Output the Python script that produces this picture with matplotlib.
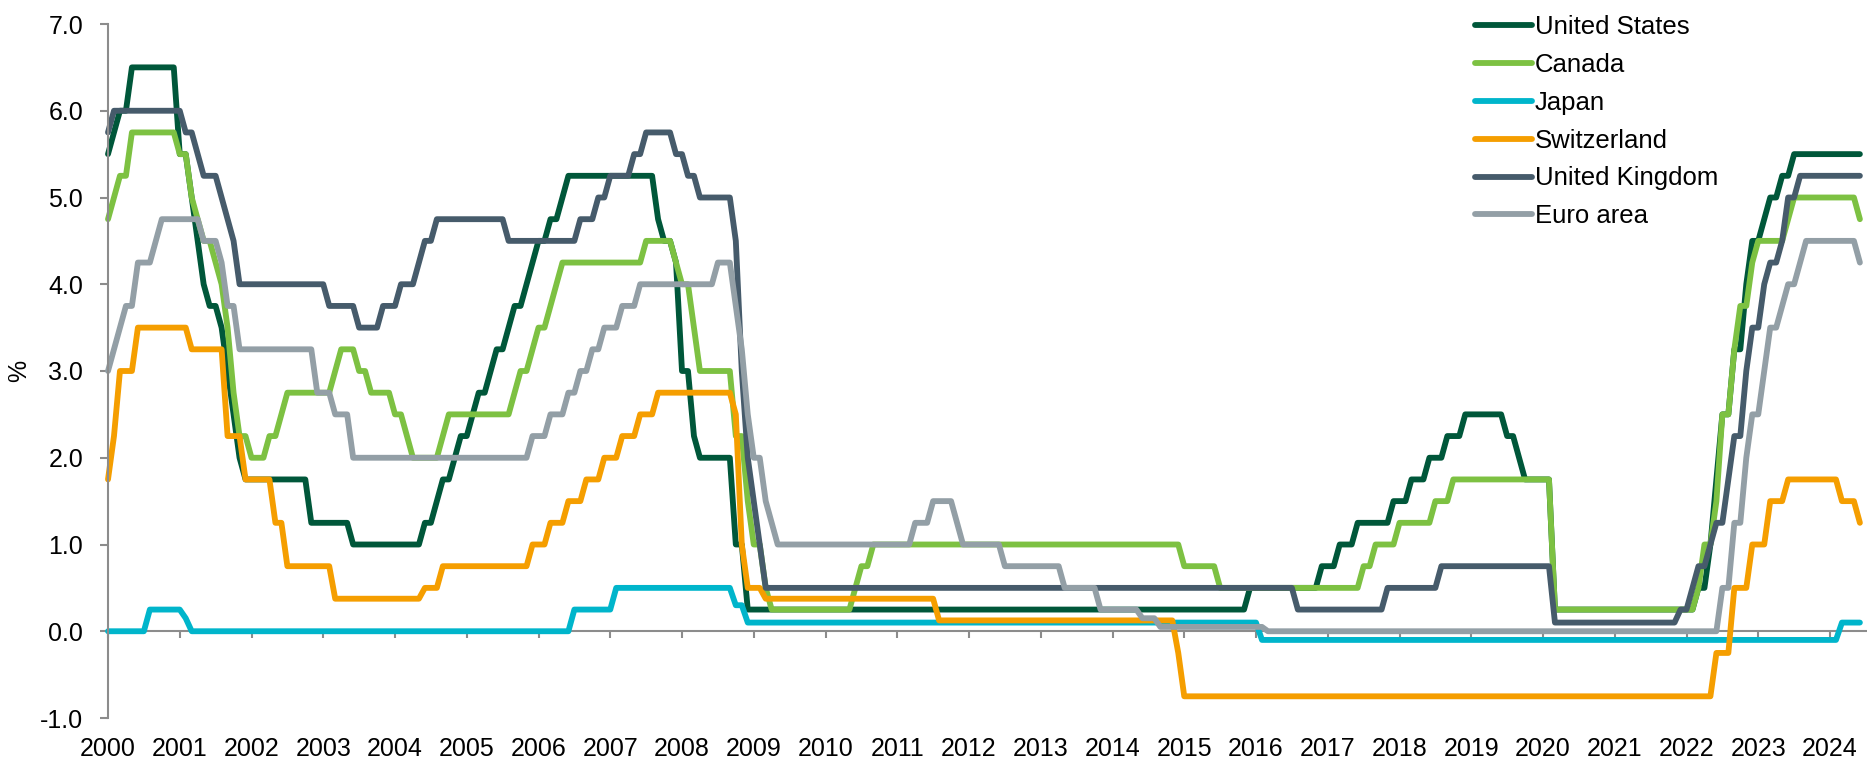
import matplotlib
matplotlib.use("Agg")
import matplotlib.pyplot as plt
import numpy as np

plt.rcParams['font.family'] = ['Liberation Sans', 'DejaVu Sans']

# ---------------- data (end-of-month policy rates, % ; listed as change points) ----------------
first_year = 2000
last_year, last_month = 2024, 6

series_names = ["United States", "Canada", "Japan", "Switzerland", "United Kingdom", "Euro area"]
series_colors = ["#00573A", "#7DC142", "#00B5CB", "#F59E00", "#465B6B", "#939FA6"]

us_changes = [
    ("2000-01", 5.5), ("2000-02", 5.75), ("2000-03", 6.0), ("2000-05", 6.5), ("2001-01", 5.5),
    ("2001-03", 5.0), ("2001-04", 4.5), ("2001-05", 4.0), ("2001-06", 3.75), ("2001-08", 3.5),
    ("2001-09", 3.0), ("2001-10", 2.5), ("2001-11", 2.0), ("2001-12", 1.75), ("2002-11", 1.25),
    ("2003-06", 1.0), ("2004-06", 1.25), ("2004-08", 1.5), ("2004-09", 1.75), ("2004-11", 2.0),
    ("2004-12", 2.25), ("2005-02", 2.5), ("2005-03", 2.75), ("2005-05", 3.0), ("2005-06", 3.25),
    ("2005-08", 3.5), ("2005-09", 3.75), ("2005-11", 4.0), ("2005-12", 4.25), ("2006-01", 4.5),
    ("2006-03", 4.75), ("2006-05", 5.0), ("2006-06", 5.25), ("2007-09", 4.75), ("2007-10", 4.5),
    ("2007-12", 4.25), ("2008-01", 3.0), ("2008-03", 2.25), ("2008-04", 2.0), ("2008-10", 1.0),
    ("2008-12", 0.25), ("2015-12", 0.5), ("2016-12", 0.75), ("2017-03", 1.0), ("2017-06", 1.25),
    ("2017-12", 1.5), ("2018-03", 1.75), ("2018-06", 2.0), ("2018-09", 2.25), ("2018-12", 2.5),
    ("2019-07", 2.25), ("2019-09", 2.0), ("2019-10", 1.75), ("2020-03", 0.25), ("2022-03", 0.5),
    ("2022-05", 1.0), ("2022-06", 1.75), ("2022-07", 2.5), ("2022-09", 3.25), ("2022-11", 4.0),
    ("2022-12", 4.5), ("2023-02", 4.75), ("2023-03", 5.0), ("2023-05", 5.25), ("2023-07", 5.5),
]

canada_changes = [
    ("2000-01", 4.75), ("2000-02", 5.0), ("2000-03", 5.25), ("2000-05", 5.75), ("2001-01", 5.5),
    ("2001-03", 5.0), ("2001-04", 4.75), ("2001-05", 4.5), ("2001-07", 4.25), ("2001-08", 4.0),
    ("2001-09", 3.5), ("2001-10", 2.75), ("2001-11", 2.25), ("2002-01", 2.0), ("2002-04", 2.25),
    ("2002-06", 2.5), ("2002-07", 2.75), ("2003-03", 3.0), ("2003-04", 3.25), ("2003-07", 3.0),
    ("2003-09", 2.75), ("2004-01", 2.5), ("2004-03", 2.25), ("2004-04", 2.0), ("2004-09", 2.25),
    ("2004-10", 2.5), ("2005-09", 2.75), ("2005-10", 3.0), ("2005-12", 3.25), ("2006-01", 3.5),
    ("2006-03", 3.75), ("2006-04", 4.0), ("2006-05", 4.25), ("2007-07", 4.5), ("2007-12", 4.25),
    ("2008-01", 4.0), ("2008-03", 3.5), ("2008-04", 3.0), ("2008-10", 2.25), ("2008-12", 1.5),
    ("2009-01", 1.0), ("2009-03", 0.5), ("2009-04", 0.25), ("2010-06", 0.5), ("2010-07", 0.75),
    ("2010-09", 1.0), ("2015-01", 0.75), ("2015-07", 0.5), ("2017-07", 0.75), ("2017-09", 1.0),
    ("2018-01", 1.25), ("2018-07", 1.5), ("2018-10", 1.75), ("2020-03", 0.25), ("2022-03", 0.5),
    ("2022-04", 1.0), ("2022-06", 1.5), ("2022-07", 2.5), ("2022-09", 3.25), ("2022-10", 3.75),
    ("2022-12", 4.25), ("2023-01", 4.5), ("2023-06", 4.75), ("2023-07", 5.0), ("2024-06", 4.75),
]

japan_changes = [
    ("2000-01", 0.0), ("2000-08", 0.25), ("2001-02", 0.15), ("2001-03", 0.0), ("2006-07", 0.25),
    ("2007-02", 0.5), ("2008-10", 0.3), ("2008-12", 0.1), ("2016-02", -0.1), ("2024-03", 0.1),
]

switzerland_changes = [
    ("2000-01", 1.75), ("2000-02", 2.25), ("2000-03", 3.0), ("2000-06", 3.5), ("2001-03", 3.25),
    ("2001-09", 2.25), ("2001-12", 1.75), ("2002-05", 1.25), ("2002-07", 0.75), ("2003-03", 0.375),
    ("2004-06", 0.5), ("2004-09", 0.75), ("2005-12", 1.0), ("2006-03", 1.25), ("2006-06", 1.5),
    ("2006-09", 1.75), ("2006-12", 2.0), ("2007-03", 2.25), ("2007-06", 2.5), ("2007-09", 2.75),
    ("2008-10", 2.5), ("2008-11", 1.0), ("2008-12", 0.5), ("2009-03", 0.375), ("2011-08", 0.125),
    ("2014-12", -0.25), ("2015-01", -0.75), ("2022-06", -0.25), ("2022-09", 0.5), ("2022-12", 1.0),
    ("2023-03", 1.5), ("2023-06", 1.75), ("2024-03", 1.5), ("2024-06", 1.25),
]

uk_changes = [
    ("2000-01", 5.75), ("2000-02", 6.0), ("2001-02", 5.75), ("2001-04", 5.5), ("2001-05", 5.25),
    ("2001-08", 5.0), ("2001-09", 4.75), ("2001-10", 4.5), ("2001-11", 4.0), ("2003-02", 3.75),
    ("2003-07", 3.5), ("2003-11", 3.75), ("2004-02", 4.0), ("2004-05", 4.25), ("2004-06", 4.5),
    ("2004-08", 4.75), ("2005-08", 4.5), ("2006-08", 4.75), ("2006-11", 5.0), ("2007-01", 5.25),
    ("2007-05", 5.5), ("2007-07", 5.75), ("2007-12", 5.5), ("2008-02", 5.25), ("2008-04", 5.0),
    ("2008-10", 4.5), ("2008-11", 3.0), ("2008-12", 2.0), ("2009-01", 1.5), ("2009-02", 1.0),
    ("2009-03", 0.5), ("2016-08", 0.25), ("2017-11", 0.5), ("2018-08", 0.75), ("2020-03", 0.1),
    ("2021-12", 0.25), ("2022-02", 0.5), ("2022-03", 0.75), ("2022-05", 1.0), ("2022-06", 1.25),
    ("2022-08", 1.75), ("2022-09", 2.25), ("2022-11", 3.0), ("2022-12", 3.5), ("2023-02", 4.0),
    ("2023-03", 4.25), ("2023-05", 4.5), ("2023-06", 5.0), ("2023-08", 5.25),
]

euro_changes = [
    ("2000-01", 3.0), ("2000-02", 3.25), ("2000-03", 3.5), ("2000-04", 3.75), ("2000-06", 4.25),
    ("2000-09", 4.5), ("2000-10", 4.75), ("2001-05", 4.5), ("2001-08", 4.25), ("2001-09", 3.75),
    ("2001-11", 3.25), ("2002-12", 2.75), ("2003-03", 2.5), ("2003-06", 2.0), ("2005-12", 2.25),
    ("2006-03", 2.5), ("2006-06", 2.75), ("2006-08", 3.0), ("2006-10", 3.25), ("2006-12", 3.5),
    ("2007-03", 3.75), ("2007-06", 4.0), ("2008-07", 4.25), ("2008-10", 3.75), ("2008-11", 3.25),
    ("2008-12", 2.5), ("2009-01", 2.0), ("2009-03", 1.5), ("2009-04", 1.25), ("2009-05", 1.0),
    ("2011-04", 1.25), ("2011-07", 1.5), ("2011-11", 1.25), ("2011-12", 1.0), ("2012-07", 0.75),
    ("2013-05", 0.5), ("2013-11", 0.25), ("2014-06", 0.15), ("2014-09", 0.05), ("2016-03", 0.0),
    ("2022-07", 0.5), ("2022-09", 1.25), ("2022-11", 2.0), ("2022-12", 2.5), ("2023-02", 3.0),
    ("2023-03", 3.5), ("2023-05", 3.75), ("2023-06", 4.0), ("2023-08", 4.25), ("2023-09", 4.5),
    ("2024-06", 4.25),
]

year_labels = [str(y) for y in range(2000, 2025)]
y_ticks = [-1, 0, 1, 2, 3, 4, 5, 6, 7]
y_tick_labels = ["-1.0", "0.0", "1.0", "2.0", "3.0", "4.0", "5.0", "6.0", "7.0"]
y_label = "%"

all_changes = [us_changes, canada_changes, japan_changes, switzerland_changes, uk_changes, euro_changes]


def month_index(s):
    y, m = s.split("-")
    return (int(y) - first_year) * 12 + int(m) - 1


n_months = (last_year - first_year) * 12 + last_month
x_months = first_year + np.arange(n_months) / 12.0


def monthly(changes):
    vals = np.full(n_months, np.nan)
    for d, v in changes:
        vals[month_index(d)] = v
    # carry each rate forward until the next change
    cur = vals[0]
    for i in range(n_months):
        if np.isnan(vals[i]):
            vals[i] = cur
        else:
            cur = vals[i]
    return vals


# ---------------- figure ----------------
W, H = 1867, 762
fig = plt.figure(figsize=(W / 100, H / 100), dpi=100)
ax_left, ax_right, ax_top, ax_bottom = 108, 1867, 24, 718
ax = fig.add_axes([ax_left / W, 1 - ax_bottom / H, (ax_right - ax_left) / W, (ax_bottom - ax_top) / H])

px_per_year = 71.75
ax.set_xlim(2000, 2000 + (ax_right - ax_left) / px_per_year)
ax.set_ylim(-1, 7)

lines = []
for name, col, ch in zip(series_names, series_colors, all_changes):
    ln, = ax.plot(x_months, monthly(ch), color=col, lw=4.2, label=name,
                  solid_joinstyle='round', solid_capstyle='round', clip_on=False)
    lines.append(ln)

axis_gray = "#8C8C8C"
for s in ["top", "right"]:
    ax.spines[s].set_visible(False)
ax.spines["left"].set_color(axis_gray)
ax.spines["left"].set_linewidth(1.5)
ax.spines["bottom"].set_position(("data", 0))
ax.spines["bottom"].set_color(axis_gray)
ax.spines["bottom"].set_linewidth(1.5)
ax.spines["bottom"].set_zorder(0.5)

ax.set_yticks(y_ticks)
ax.set_yticklabels(y_tick_labels)
ax.tick_params(axis="y", direction="out", length=6, width=1.5, color=axis_gray,
               labelsize=18, pad=12, labelcolor="black")

years = np.arange(2000, 2025)
ax.set_xticks(years)
ax.tick_params(axis="x", direction="out", length=5, width=1.5, color=axis_gray, labelbottom=False)

sec = ax.secondary_xaxis("bottom")
sec.set_xticks(years)
sec.set_xticklabels(year_labels)
sec.tick_params(axis="x", length=0, labelsize=18, pad=14)
sec.spines["bottom"].set_visible(False)

ax.set_ylabel(y_label, fontsize=18, labelpad=6)

leg = fig.legend(handles=lines, loc="upper left", bbox_to_anchor=(1475 / W, 1 - 15 / H),
                 frameon=False, fontsize=18.5, handlelength=2.2, handletextpad=0.12,
                 labelspacing=0.54, borderpad=0, borderaxespad=0)

fig.savefig("out.png", dpi=100)
